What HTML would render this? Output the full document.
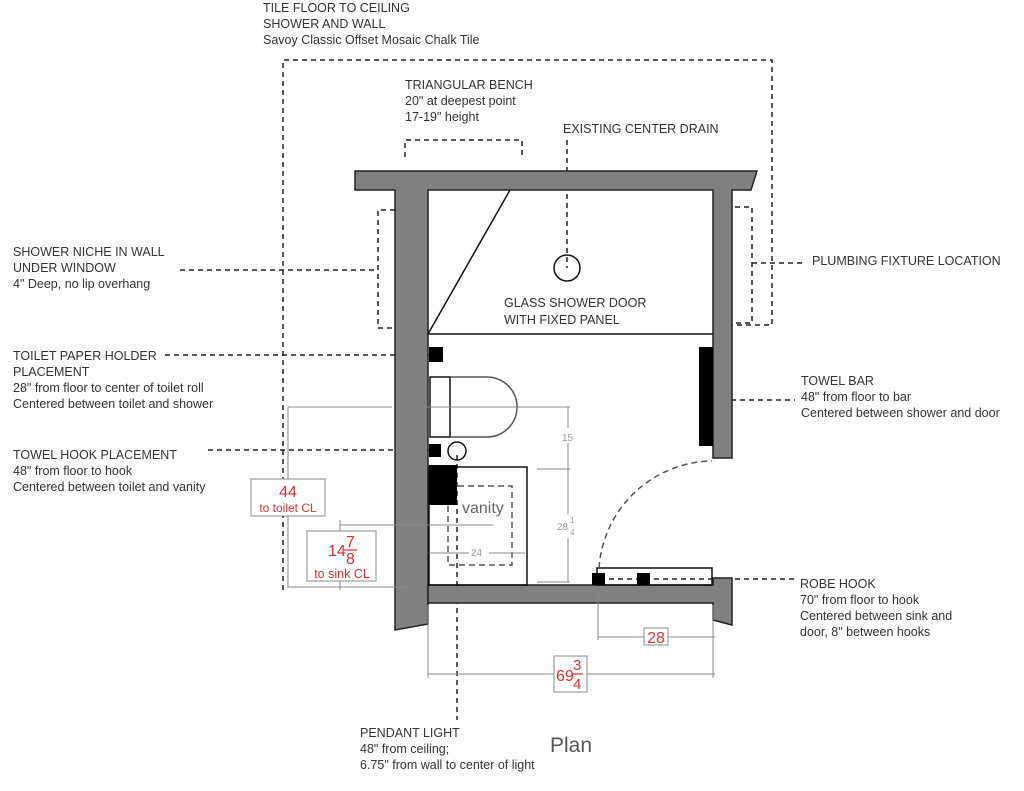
<!DOCTYPE html>
<html><head><style>
body{margin:0;background:#fff;}
svg{display:block;}
text{font-family:"Liberation Sans",sans-serif;font-size:12.5px;fill:#333;}
</style></head><body>
<svg width="1024" height="791" viewBox="0 0 1024 791" xmlns="http://www.w3.org/2000/svg">
<g fill="none" stroke="#222" stroke-width="1.5" stroke-dasharray="5,4">
<polyline points="283,590 283,60 772,60 772,325 732,325"/>
<polyline points="405,157 405,140 522,140 522,157"/>
<line x1="567" y1="140" x2="567" y2="268"/>
<polyline points="395,210 378,210 378,328 395,328"/>
<line x1="180" y1="270" x2="378" y2="270"/>
<polyline points="735,207 752,207 752,323 735,323"/>
<line x1="752" y1="263" x2="805" y2="263"/>
<line x1="165" y1="355" x2="430" y2="355"/>
<line x1="208" y1="450" x2="430" y2="450"/>
<line x1="713" y1="400" x2="795" y2="400"/>
<line x1="600" y1="579" x2="795" y2="579"/>
<line x1="457" y1="455" x2="457" y2="720"/>
</g>
<g fill="#808080" stroke="#222" stroke-width="1.5">
<polygon points="355,171 757,171 751,190 732,190 732,458 713,458 713,190 428,190 428,624 395,630 395,190 355,190"/>
<polygon points="428,585 713,585 713,578 732,578 732,625 713,620 713,603 428,603"/>
</g>
<g fill="none" stroke="#111" stroke-width="1.5">
<line x1="428" y1="334" x2="713" y2="334"/>
<line x1="428" y1="334" x2="510" y2="190"/>
<circle cx="567" cy="268" r="13"/>
<rect x="430" y="377" width="20" height="60"/>
<path d="M450,377 H487 A30,30 0 0 1 487,437 H450" stroke="#555"/>
<circle cx="457" cy="451" r="9"/>
<rect x="429" y="467" width="98" height="118"/>
<rect x="448" y="486" width="64" height="79" stroke-dasharray="6,4" stroke="#555"/>
<rect x="597" y="568" width="115" height="17"/>
<path d="M599,568 A115,115 0 0 1 712,461" stroke-dasharray="6,4" stroke="#555"/>
</g>
<g fill="#000">
<rect x="429" y="347" width="14" height="15"/>
<rect x="699" y="347" width="14" height="99"/>
<rect x="429" y="444" width="12" height="13"/>
<rect x="429" y="465" width="28" height="40"/>
<rect x="592" y="573" width="13" height="12"/>
<rect x="637" y="573" width="13" height="12"/>
</g>
<g stroke="#888" stroke-width="1" fill="none">
<line x1="288" y1="407" x2="288" y2="588"/>
<line x1="288" y1="407" x2="392" y2="407"/>
<line x1="420" y1="407" x2="570" y2="407"/>
<line x1="288" y1="587" x2="412" y2="587"/>
<line x1="340" y1="525" x2="493" y2="525"/>
<line x1="340" y1="520" x2="340" y2="590"/>
<line x1="568" y1="407" x2="568" y2="582"/>
<line x1="537" y1="469" x2="570" y2="469"/>
<line x1="537" y1="582" x2="570" y2="582"/>
<line x1="429" y1="553" x2="525" y2="553"/>
<line x1="598" y1="590" x2="598" y2="640"/>
<line x1="598" y1="637" x2="715" y2="637"/>
<line x1="428" y1="605" x2="428" y2="678"/>
<line x1="713" y1="605" x2="713" y2="678"/>
<line x1="428" y1="674" x2="715" y2="674"/>
</g>
<g fill="#fff" stroke="#888">
<rect x="251" y="479" width="74" height="37"/>
<rect x="307" y="531" width="69" height="50"/>
<rect x="644" y="628" width="24" height="17"/>
<rect x="554" y="656" width="33" height="36"/>
<rect x="469" y="546" width="20" height="13" stroke="none"/>
<rect x="560" y="428" width="16" height="15" stroke="none"/>
<rect x="556" y="514" width="24" height="24" stroke="none"/>
</g>
<text x="288" y="497" text-anchor="middle" style="fill:#e03030;font-size:16px">44</text>
<text x="288" y="512" text-anchor="middle" style="fill:#e03030;font-size:12px">to toilet CL</text>
<text x="328" y="556" style="fill:#e03030;font-size:16px">14</text>
<text x="346" y="547" style="fill:#e03030;font-size:16px">7</text>
<line x1="344" y1="550" x2="357" y2="550" stroke="#e03030" stroke-width="1.2"/>
<text x="346" y="564" style="fill:#e03030;font-size:16px">8</text>
<text x="342" y="578" text-anchor="middle" style="fill:#e03030;font-size:12.5px">to sink CL</text>
<text x="656" y="643" text-anchor="middle" style="fill:#e03030;font-size:16px">28</text>
<text x="556" y="681" style="fill:#e03030;font-size:16px">69</text>
<text x="573" y="670" style="fill:#e03030;font-size:15px">3</text>
<line x1="572" y1="674" x2="583" y2="674" stroke="#e03030" stroke-width="1.2"/>
<text x="573" y="689" style="fill:#e03030;font-size:15px">4</text>
<text x="562" y="441" style="fill:#999;font-size:10px">15</text>
<text x="557" y="530" style="fill:#999;font-size:10px">28</text>
<text x="570" y="523" style="fill:#999;font-size:8px">1</text>
<text x="570" y="535" style="fill:#999;font-size:8px">4</text>
<text x="471" y="556" style="fill:#999;font-size:10px">24</text>
<text x="462" y="513" style="fill:#666;font-size:16px">vanity</text>
<text x="550" y="752" style="fill:#555;font-size:21px">Plan</text>
<text x="504" y="307">GLASS SHOWER DOOR</text>
<text x="504" y="324">WITH FIXED PANEL</text>
<text x="263" y="12">TILE FLOOR TO CEILING</text>
<text x="263" y="28">SHOWER AND WALL</text>
<text x="263" y="44">Savoy Classic Offset Mosaic Chalk Tile</text>
<text x="405" y="89">TRIANGULAR BENCH</text>
<text x="405" y="105">20" at deepest point</text>
<text x="405" y="121">17-19" height</text>
<text x="563" y="133">EXISTING CENTER DRAIN</text>
<text x="13" y="256">SHOWER NICHE IN WALL</text>
<text x="13" y="272">UNDER WINDOW</text>
<text x="13" y="288">4" Deep, no lip overhang</text>
<text x="812" y="265">PLUMBING FIXTURE LOCATION</text>
<text x="13" y="360">TOILET PAPER HOLDER</text>
<text x="13" y="376">PLACEMENT</text>
<text x="13" y="392">28" from floor to center of toilet roll</text>
<text x="13" y="408">Centered between toilet and shower</text>
<text x="13" y="459">TOWEL HOOK PLACEMENT</text>
<text x="13" y="475">48" from floor to hook</text>
<text x="13" y="491">Centered between toilet and vanity</text>
<text x="801" y="385">TOWEL BAR</text>
<text x="801" y="401">48" from floor to bar</text>
<text x="801" y="417">Centered between shower and door</text>
<text x="800" y="588">ROBE HOOK</text>
<text x="800" y="604">70" from floor to hook</text>
<text x="800" y="620">Centered between sink and</text>
<text x="800" y="636">door, 8" between hooks</text>
<text x="360" y="737">PENDANT LIGHT</text>
<text x="360" y="753">48" from ceiling;</text>
<text x="360" y="769">6.75" from wall to center of light</text>
</svg>
</body></html>
